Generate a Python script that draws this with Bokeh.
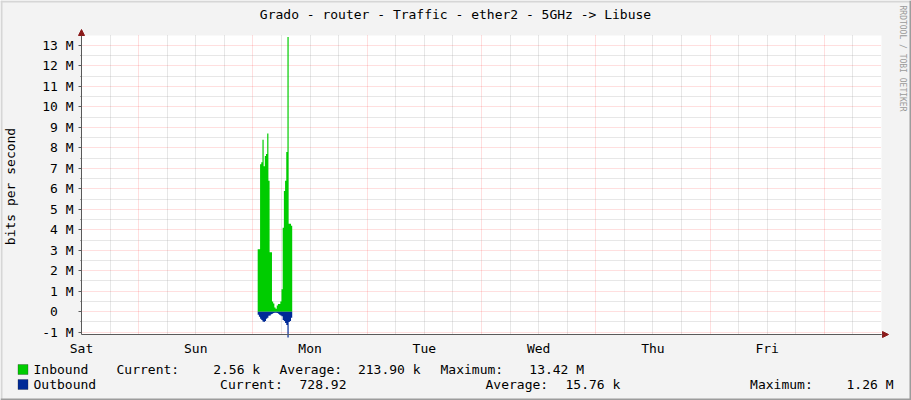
import numpy as np
from bokeh.plotting import figure
from bokeh.models import FixedTicker, Label, BoxAnnotation, Arrow, NormalHead, Range1d, Grid
from bokeh.embed import file_html
from bokeh.resources import INLINE

# ---------------- data ----------------
title_text = "Grado - router - Traffic - ether2 - 5GHz -> Libuse"
y_axis_title = "bits per second"
watermark = "RRDTOOL / TOBI OETIKER"

day_labels = ["Sat", "Sun", "Mon", "Tue", "Wed", "Thu", "Fri"]
day_hours = [0, 24, 48, 72, 96, 120, 144]          # label positions (hours since Sat 00:00)
major_vgrid_hours = [12, 36, 60, 84, 108, 132, 156]
minor_vgrid_hours = [h for h in range(6, 168, 6) if h not in major_vgrid_hours]

y_ticks_M = list(range(-1, 14))
y_tick_labels = [("0\u00a0\u00a0" if t == 0 else f"{t} M") for t in y_ticks_M]
y_minor_ticks_M = [t + 0.5 for t in range(-1, 13)]

sample_start_h = 37.0
sample_step_h = 0.25
inbound_M = [3.05, 3.05, 7.2, 7.3, 8.4, 7.1, 7.6, 7.7, 8.7, 6.4, 2.9, 2.9, 0.5, 0.4,
             0.2, 0.15, 0.3, 0.38, 0.38, 0.5, 1.1, 4.1, 5.9, 6.4, 7.8, 13.42, 4.3, 4.3, 4.2]
outbound_M = [0.15, 0.25, 0.35, 0.4, 0.48, 0.5, 0.45, 0.35, 0.3, 0.2, 0.18, 0.12, 0.1, 0.06,
              0.05, 0.05, 0.06, 0.1, 0.15, 0.18, 0.22, 0.4, 0.45, 0.55, 0.65, 1.26, 0.5, 0.45, 0.3]

series_names = ["Inbound", "Outbound"]
series_colors = ["#00CC00", "#002A97"]
stat_current = ["2.56 k", "728.92"]
stat_average = ["213.90 k", "15.76 k"]
stat_maximum = ["13.42 M", "1.26 M"]

# ---------------- layout helpers (canvas pixel -> data) ----------------
W, H = 911, 400
X0_PX, PX_PER_H = 81.0, 800.0 / 168.0
Y0_PX, PX_PER_M = 311.2, 20.477
def hx(px):
    return (px - X0_PX) / PX_PER_H
def vy(py):
    return (Y0_PX - py) / PX_PER_M

PLOT_L, PLOT_R, PLOT_T, PLOT_B = 81, 881, 35, 334
FONT = "DejaVu Sans Mono"
BG = "#F3F3F3"
AX_COL = "#5A5A5A"
ARROW_COL = "#8B1A1A"

p = figure(width=W, height=H, output_backend="svg", toolbar_location=None, title=None,
           x_range=Range1d(hx(0), hx(W)), y_range=Range1d(vy(H), vy(0)),
           min_border=0, min_border_left=0, min_border_right=0,
           min_border_top=0, min_border_bottom=0,
           background_fill_color=BG, border_fill_color=BG, outline_line_color=None)

x_lo, x_hi = hx(PLOT_L), hx(PLOT_R)
y_lo, y_hi = vy(PLOT_B), vy(PLOT_T)

# white canvas of the graph area
p.quad(left=[x_lo], right=[x_hi], bottom=[y_lo], top=[y_hi],
       fill_color="#FFFFFF", line_color=None, level="image")

# axes (drawn at fixed locations inside the canvas)
xa = p.xaxis[0]
xa.fixed_location = y_lo
xa.bounds = (x_lo, x_hi)
xa.ticker = FixedTicker(ticks=day_hours)
xa.major_label_overrides = {h: d for h, d in zip(day_hours, day_labels)}
xa.axis_line_color = AX_COL
xa.major_tick_out = 0
xa.major_tick_in = 0
xa.minor_tick_out = 0
xa.minor_tick_in = 0
xa.major_label_standoff = 6
xa.major_label_text_font = FONT
xa.major_label_text_font_size = "13px"
xa.major_label_text_color = "#000000"

ya = p.yaxis[0]
ya.fixed_location = x_lo
ya.bounds = (y_lo, y_hi)
ya.ticker = FixedTicker(ticks=y_ticks_M, minor_ticks=y_minor_ticks_M)
ya.major_label_overrides = {t: s for t, s in zip(y_ticks_M, y_tick_labels)}
ya.axis_line_color = AX_COL
ya.major_tick_line_color = AX_COL
ya.minor_tick_line_color = AX_COL
ya.major_tick_out = 3
ya.major_tick_in = 0
ya.minor_tick_out = 1
ya.minor_tick_in = 0
ya.major_label_standoff = 5
ya.major_label_text_font = FONT
ya.major_label_text_font_size = "13px"
ya.major_label_text_color = "#000000"

# grids
GRID_RED, GRID_RED_A = "#FF0000", 0.25
GRID_GREY, GRID_GREY_A = "#A8A8A8", 0.55
has_cross = "cross_bounds" in Grid.properties()
if has_cross:
    p.ygrid.cross_bounds = (x_lo, x_hi)
    p.xgrid.cross_bounds = (y_lo, y_hi)
    for g in (p.xgrid[0], p.ygrid[0]):
        g.grid_line_color = GRID_RED
        g.grid_line_alpha = GRID_RED_A
        g.grid_line_dash = "1 1"
        g.minor_grid_line_color = GRID_GREY
        g.minor_grid_line_alpha = GRID_GREY_A
        g.minor_grid_line_dash = "1 1"
    p.xgrid.ticker = FixedTicker(ticks=major_vgrid_hours, minor_ticks=minor_vgrid_hours)
else:
    p.xgrid.visible = False
    p.ygrid.visible = False
    p.segment(x0=minor_vgrid_hours, x1=minor_vgrid_hours, y0=y_lo, y1=y_hi,
              line_color=GRID_GREY, line_alpha=GRID_GREY_A, line_dash="1 1", level="underlay")
    p.segment(x0=major_vgrid_hours, x1=major_vgrid_hours, y0=y_lo, y1=y_hi,
              line_color=GRID_RED, line_alpha=GRID_RED_A, line_dash="1 1", level="underlay")
    p.segment(x0=x_lo, x1=x_hi, y0=y_minor_ticks_M, y1=y_minor_ticks_M,
              line_color=GRID_GREY, line_alpha=GRID_GREY_A, line_dash="1 1", level="underlay")
    p.segment(x0=x_lo, x1=x_hi, y0=y_ticks_M, y1=y_ticks_M,
              line_color=GRID_RED, line_alpha=GRID_RED_A, line_dash="1 1", level="underlay")

# data areas (step areas, like rrdtool columns)
t = sample_start_h + sample_step_h * np.arange(len(inbound_M) + 1)
inb = np.array(inbound_M + [inbound_M[-1]])
outb = -np.array(outbound_M + [outbound_M[-1]])
zeros = np.zeros_like(t)
p.varea_step(x=t, y1=zeros, y2=inb, step_mode="after", fill_color=series_colors[0])
p.varea_step(x=t, y1=zeros, y2=outb, step_mode="after", fill_color=series_colors[1])

# axis arrows
p.add_layout(Arrow(x_start=x_lo, y_start=y_hi, x_end=x_lo, y_end=vy(29),
                   line_color=AX_COL, line_width=1,
                   end=NormalHead(size=6, fill_color=ARROW_COL, line_color=ARROW_COL)))
p.add_layout(Arrow(x_start=x_hi, y_start=y_lo, x_end=hx(888), y_end=y_lo,
                   line_color=AX_COL, line_width=1,
                   end=NormalHead(size=6, fill_color=ARROW_COL, line_color=ARROW_COL)))

# 3D-like outer frame
def pbox(l, r, t_, b, color):
    p.add_layout(BoxAnnotation(left=hx(l), right=hx(r), top=vy(t_), bottom=vy(b),
                               fill_color=color, fill_alpha=1.0, line_color=None))
pbox(0, W, 0, 2, "#D6D6D6")
pbox(0, 2, 0, H, "#D6D6D6")
pbox(W - 2, W, 0, H, "#9C9C9C")
pbox(0, W, H - 2, H, "#9C9C9C")

def lab(text, px, py, align="left", size="13px", color="#000000", angle=0.0, baseline="middle"):
    p.add_layout(Label(x=hx(px), y=vy(py), text=text, text_align=align,
                       text_baseline=baseline, text_font=FONT, text_font_size=size,
                       text_color=color, angle=angle))

# title, axis title, watermark
lab(title_text, 455, 14, align="center")
lab(y_axis_title, 10, 186, align="center", angle=np.pi / 2)
lab(watermark, 902, 5, align="left", size="8px", color="#9A9A9A", angle=-np.pi / 2)

# legend
row_y = [369, 384]
col_x = [
    (116, 212.7, 279, 357.4, 440, 528.8),
    (219.6, 299, 485, 565, 749.6, 846),
]
for i in range(2):
    ry = row_y[i]
    p.add_layout(BoxAnnotation(left=hx(17.5), right=hx(27.5), top=vy(ry - 5), bottom=vy(ry + 5),
                               fill_color=series_colors[i], fill_alpha=1.0,
                               line_color="#202020", line_width=1))
    lab(series_names[i], 33, ry)
    cx = col_x[i]
    lab("Current:", cx[0], ry)
    lab(stat_current[i], cx[1], ry)
    lab("Average:", cx[2], ry)
    lab(stat_average[i], cx[3], ry)
    lab("Maximum:", cx[4], ry)
    lab(stat_maximum[i], cx[5], ry)

open("out.html", "w").write(file_html(p, INLINE))
